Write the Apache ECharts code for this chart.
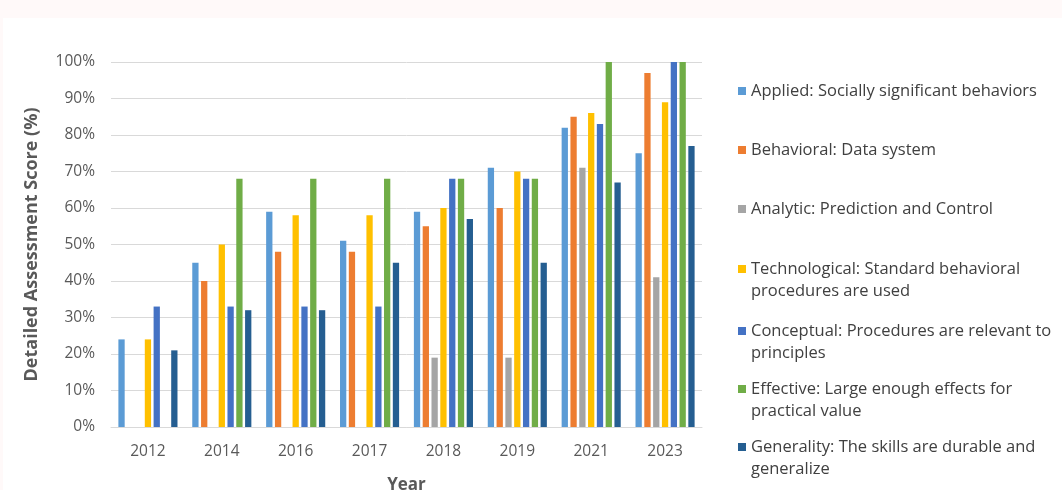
<!DOCTYPE html>
<html>
<head>
<meta charset="utf-8">
<script src="https://cdn.jsdelivr.net/npm/echarts@6/dist/echarts.min.js"></script>
<style>
	html, body { margin: 0; padding: 0; background: #fff9f9; }
	#main { position: absolute; left: 3px; top: 18px; width: 1059px; height: 472px; background: #ffffff; }
</style>
</head>
<body>
<div id="main"></div>
<script>
var years = ['2012', '2014', '2016', '2017', '2018', '2019', '2021', '2023'];
var yTicks = [0, 10, 20, 30, 40, 50, 60, 70, 80, 90, 100];

var seriesNames = [
	'Applied: Socially significant behaviors',
	'Behavioral: Data system',
	'Analytic: Prediction and Control',
	'Technological: Standard behavioral procedures are used',
	'Conceptual: Procedures are relevant to principles',
	'Effective: Large enough effects for practical value',
	'Generality: The skills are durable and generalize'
];
// how the legend wraps each name
var legendLabels = [
	'Applied: Socially significant behaviors',
	'Behavioral: Data system',
	'Analytic: Prediction and Control',
	'Technological: Standard behavioral\nprocedures are used',
	'Conceptual: Procedures are relevant to\nprinciples',
	'Effective: Large enough effects for\npractical value',
	'Generality: The skills are durable and\ngeneralize'
];

var applied       = [24, 45, 59, 51, 59, 71, 82, 75];
var behavioral    = [null, 40, 48, 48, 55, 60, 85, 97];
var analytic      = [null, null, null, null, 19, 19, 71, 41];
var technological = [24, 50, 58, 58, 60, 70, 86, 89];
var conceptual    = [33, 33, 33, 33, 68, 68, 83, 100];
var effective     = [null, 68, 68, 68, 68, 68, 100, 100];
var generality    = [21, 32, 32, 45, 57, 45, 67, 77];

var allValues = [applied, behavioral, analytic, technological, conceptual, effective, generality];
var colors = ['#5b9bd5', '#ed7d31', '#a5a5a5', '#ffc000', '#4472c4', '#70ad47', '#255e91'];

var fontFam = '"Open Sans", "Liberation Sans", sans-serif';

// legend rows, icon centre y inside the chart box
var legendCentres = [72, 131, 190, 250, 312, 370, 428];

var series = [];
var legends = [];
for (var i = 0; i < seriesNames.length; i++) {
	series.push({
		name: seriesNames[i],
		type: 'bar',
		data: allValues[i],
		barGap: '40%',
		barCategoryGap: '20%',
		itemStyle: { color: colors[i] }
	});
	var twoLines = legendLabels[i].indexOf('\n') >= 0;
	// an empty first line keeps the icon level with the first text line
	var lbl = twoLines ? '\n' + legendLabels[i] : legendLabels[i];
	legends.push({
		data: [seriesNames[i]],
		left: 730,
		top: twoLines ? legendCentres[i] - 37 : legendCentres[i] - 15,
		icon: 'rect',
		itemWidth: 8,
		itemHeight: 8,
		itemGap: 0,
		selectedMode: false,
		formatter: (function(t){ return function(){ return t; }; })(lbl),
		textStyle: {
			fontFamily: fontFam,
			fontSize: 16.5,
			color: '#404040',
			lineHeight: 22
		}
	});
}

var chart = echarts.init(document.getElementById('main'));
chart.setOption({
	animation: false,
	grid: { left: 108, right: 360, top: 44, bottom: 63, outerBoundsMode: 'none' },
	legend: legends,
	xAxis: {
		type: 'category',
		data: years,
		name: 'Year',
		nameLocation: 'middle',
		nameGap: 50,
		nameTextStyle: { fontFamily: fontFam, fontSize: 17, fontWeight: 'bold', color: '#595959' },
		axisLine: { lineStyle: { color: '#d9d9d9' } },
		axisTick: { show: false },
		axisLabel: { fontFamily: fontFam, fontSize: 15.5, color: '#595959', margin: 17 }
	},
	yAxis: {
		type: 'value',
		min: yTicks[0],
		max: yTicks[yTicks.length - 1],
		interval: 10,
		name: 'Detailed Assessment Score (%)',
		nameLocation: 'middle',
		nameGap: 70,
		nameTextStyle: { fontFamily: fontFam, fontSize: 18, fontWeight: 'bold', color: '#595959' },
		axisLabel: { fontFamily: fontFam, fontSize: 15.5, color: '#595959', margin: 16, formatter: '{value}%' },
		splitLine: { lineStyle: { color: '#d9d9d9' } }
	},
	series: series
});
</script>
</body>
</html>
